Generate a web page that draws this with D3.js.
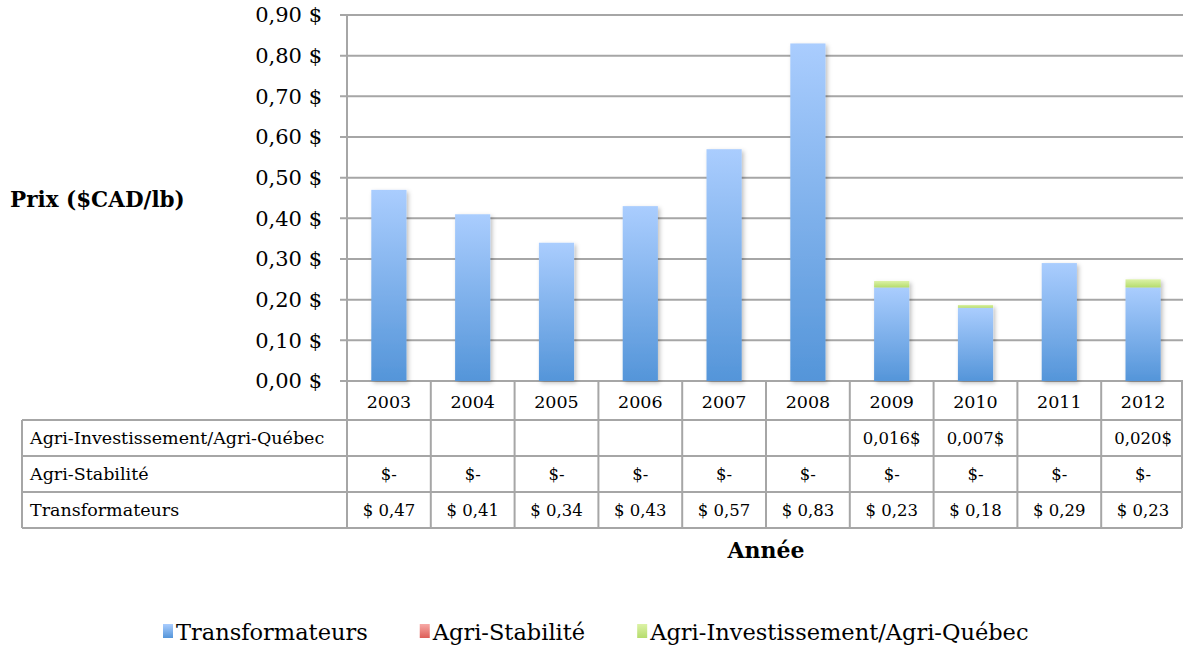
<!DOCTYPE html>
<html>
<head>
<meta charset="utf-8">
<script src="https://cdn.jsdelivr.net/npm/d3@7"></script>
<style>
  body { margin: 0; background: #fff; }
  svg text { font-family: "DejaVu Serif", serif; fill: #000; }
</style>
</head>
<body>
<div id="chart"></div>
<script>
// data
const years = ["2003","2004","2005","2006","2007","2008","2009","2010","2011","2012"];
const transformateurs = [0.47, 0.41, 0.34, 0.43, 0.57, 0.83, 0.23, 0.18, 0.29, 0.23];
const agriStabilite = [0, 0, 0, 0, 0, 0, 0, 0, 0, 0];
const agriInvest = [null, null, null, null, null, null, 0.016, 0.007, null, 0.020];
const seriesNames = ["Transformateurs", "Agri-Stabilité", "Agri-Investissement/Agri-Québec"];
const yTicks = [0, 0.1, 0.2, 0.3, 0.4, 0.5, 0.6, 0.7, 0.8, 0.9];

const w = 1183, h = 646;
const plotL = 347, plotR = 1185, plotT = 15, plotB = 381;
const gray = "#a6a6a6";

const svg = d3.select("#chart").append("svg").attr("width", w).attr("height", h);

const defs = svg.append("defs");
function grad(id, c1, c2) {
  const g = defs.append("linearGradient").attr("id", id)
    .attr("x1", 0).attr("y1", 0).attr("x2", 0).attr("y2", 1);
  g.append("stop").attr("offset", "0%").attr("stop-color", c1);
  g.append("stop").attr("offset", "100%").attr("stop-color", c2);
}
grad("gBlue", "#aacdfe", "#5495d9");
grad("gRed", "#f7a9a6", "#dd5e58");
grad("gGreen", "#dcf2a6", "#b5dc6c");
const colors = ["url(#gBlue)", "url(#gRed)", "url(#gGreen)"];

const shadow = defs.append("filter").attr("id", "shadow")
  .attr("x", "-30%").attr("y", "-10%").attr("width", "160%").attr("height", "130%");
shadow.append("feDropShadow").attr("dx", 2).attr("dy", 2).attr("stdDeviation", 2)
  .attr("flood-color", "#000").attr("flood-opacity", 0.25);

const x = d3.scaleBand().domain(years).range([plotL, plotR]).padding(0);
const barW = x.bandwidth() * 0.42;
const y = d3.scaleLinear().domain([0, 0.9]).range([plotB, plotT]);

// gridlines
svg.append("g").selectAll("line").data(yTicks).enter().append("line")
  .attr("x1", plotL - 7).attr("x2", plotR)
  .attr("y1", d => y(d)).attr("y2", d => y(d))
  .attr("stroke", gray).attr("stroke-width", 2);

// y axis line
svg.append("line").attr("x1", plotL).attr("x2", plotL).attr("y1", plotT).attr("y2", plotB)
  .attr("stroke", gray).attr("stroke-width", 2);

const fmt = d => d3.format(".2f")(d).replace(".", ",") + " $";
svg.append("g").selectAll("text").data(yTicks).enter().append("text")
  .attr("x", 322).attr("y", d => y(d)).attr("dy", "0.35em")
  .attr("text-anchor", "end").style("font-size", "21px")
  .text(fmt);

svg.append("text").attr("x", 10).attr("y", 207)
  .style("font-size", "21.5px").style("font-weight", "bold")
  .text("Prix ($CAD/lb)");

// stacked bars
const stackData = years.map((yr, i) => ({
  year: yr, t: transformateurs[i], s: agriStabilite[i], a: agriInvest[i] || 0
}));
const stack = d3.stack().keys(["t", "s", "a"])(stackData);
const barsG = svg.append("g").attr("filter", "url(#shadow)");
stack.forEach((layer, k) => {
  barsG.append("g").selectAll("rect").data(layer).enter().append("rect")
    .attr("x", d => x(d.data.year) + (x.bandwidth() - barW) / 2)
    .attr("width", barW)
    .attr("y", d => y(d[1]))
    .attr("height", d => y(d[0]) - y(d[1]))
    .attr("fill", colors[k]);
});

// data table
const tableLeft = 22, headTop = plotB, headBottom = 420, tableBottom = 528;
const rowNames = [seriesNames[2], seriesNames[1], seriesNames[0]];
const rowY = d3.scaleBand().domain(rowNames).range([headBottom, tableBottom]);
const money = v => "$ " + d3.format(".2f")(v).replace(".", ",");
const cellText = {};
cellText[seriesNames[0]] = transformateurs.map(money);
cellText[seriesNames[1]] = agriStabilite.map(() => "$-");
cellText[seriesNames[2]] = agriInvest.map(v => v == null ? "" : d3.format(".3f")(v).replace(".", ",") + "$");

const tbl = svg.append("g");
// header year labels
tbl.selectAll(".yr").data(years).enter().append("text")
  .attr("x", d => x(d) + x.bandwidth() / 2).attr("y", (headTop + headBottom) / 2 + 1)
  .attr("dy", "0.35em").attr("text-anchor", "middle").style("font-size", "17.5px")
  .text(d => d);
// row labels and cells
rowNames.forEach(r => {
  tbl.append("text").attr("x", 30).attr("y", rowY(r) + rowY.bandwidth() / 2)
    .attr("dy", "0.35em").style("font-size", "17.5px").text(r);
  tbl.append("g").selectAll("text").data(cellText[r]).enter().append("text")
    .attr("x", (d, i) => x(years[i]) + x.bandwidth() / 2)
    .attr("y", rowY(r) + rowY.bandwidth() / 2)
    .attr("dy", "0.35em").attr("text-anchor", "middle").style("font-size", "16.5px")
    .text(d => d);
});
// horizontal table lines
[headBottom, ...rowNames.map(r => rowY(r) + rowY.bandwidth())].forEach(yy => {
  tbl.append("line").attr("x1", tableLeft).attr("x2", plotR - 3).attr("y1", yy).attr("y2", yy)
    .attr("stroke", gray).attr("stroke-width", 2);
});
// vertical table lines
const vx = years.map(d => x(d)).concat([plotR - 3]);
tbl.selectAll(".vl").data(vx).enter().append("line")
  .attr("x1", d => d).attr("x2", d => d).attr("y1", headTop).attr("y2", tableBottom)
  .attr("stroke", gray).attr("stroke-width", 2);
tbl.append("line").attr("x1", tableLeft).attr("x2", tableLeft).attr("y1", headBottom).attr("y2", tableBottom)
  .attr("stroke", gray).attr("stroke-width", 2);

svg.append("text").attr("x", (plotL + plotR) / 2).attr("y", 558)
  .attr("text-anchor", "middle").style("font-size", "22px").style("font-weight", "bold")
  .text("Année");

// legend
const legend = svg.append("g");
let lx = 163;
const legendGaps = [52, 52, 0];
seriesNames.forEach((name, i) => {
  legend.append("rect").attr("x", lx).attr("y", 624).attr("width", 10).attr("height", 14)
    .attr("fill", colors[i]);
  const t = legend.append("text").attr("x", lx + 13).attr("y", 640)
    .style("font-size", "22.5px").text(name);
  lx += 13 + t.node().getComputedTextLength() + legendGaps[i];
});
</script>
</body>
</html>
